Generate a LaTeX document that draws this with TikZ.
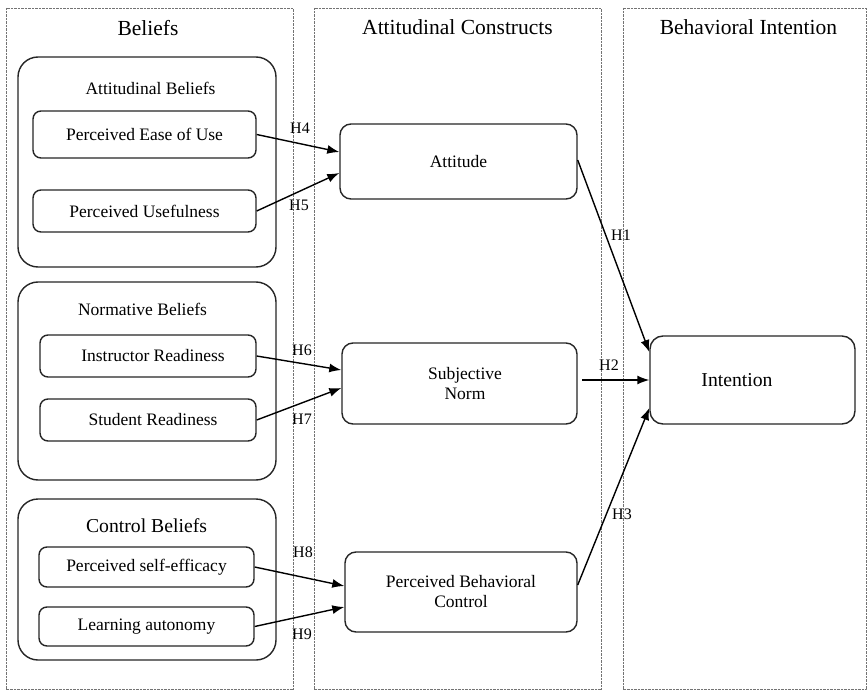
\documentclass[tikz,border=0pt]{standalone}
\usepackage{fontspec}
\setmainfont{Liberation Serif}
\usetikzlibrary{arrows.meta,calc}
\begin{document}
\begin{tikzpicture}[x=1pt,y=-1pt,
  col/.style={draw=black!55, line width=0.8pt, dash pattern=on 0.7pt off 0.7pt},
  grp/.style={draw=black!85, line width=1.4pt, rounded corners=20pt, inner sep=0pt},
  sbox/.style={draw=black!85, line width=1.4pt, rounded corners=8pt, inner sep=0pt, font=\fontsize{17.5}{20}\selectfont, align=center},
  cbox/.style={draw=black!85, line width=1.4pt, rounded corners=11pt, inner sep=0pt, font=\fontsize{17.5}{20}\selectfont, align=center},
  ttl/.style={font=\fontsize{21.5}{24}\selectfont, anchor=base, inner sep=0pt},
  glbl/.style={font=\fontsize{17.5}{20}\selectfont, anchor=base, inner sep=0pt},
  txt/.style={font=\fontsize{17.5}{20}\selectfont, align=center, inner sep=0pt},
  hl/.style={font=\fontsize{16}{18}\selectfont, inner sep=0pt},
  arr/.style={line width=1.4pt, -{Latex[length=12pt,width=9pt]}},
]
\useasboundingbox[fill=white] (0,0) rectangle (868,693);

% columns
\draw[col] (6,8) rectangle (293,689);
\draw[col] (314,8) rectangle (601,689);
\draw[col] (623,8) rectangle (866,689);

\node[ttl] (t1) at (148,36) {Beliefs};
\node[ttl] (t2) at (457.5,35) {Attitudinal Constructs};
\node[ttl] (t3) at (748.5,35) {Behavioral Intention};

% group boxes
\node[grp, minimum width=258pt, minimum height=210pt] (ab) at (147,162) {};
\node[grp, minimum width=258pt, minimum height=198pt] (nb) at (147,381) {};
\node[grp, minimum width=258pt, minimum height=161pt] (cb) at (147,579.5) {};

\node[glbl] (abl) at (150.5,95) {Attitudinal Beliefs};
\node[glbl] (nbl) at (142.5,315) {Normative Beliefs};
\node[glbl, font=\fontsize{19.7}{22}\selectfont] (cbl) at (146.5,532) {Control Beliefs};

% belief boxes
\node[sbox, minimum width=223pt, minimum height=47pt] (peou) at (144.5,134.5) {Perceived Ease of Use};
\node[sbox, minimum width=223pt, minimum height=42pt] (pu) at (144.5,211) {Perceived Usefulness};
\node[sbox, minimum width=216pt, minimum height=42pt] (ir) at (148,356) {};
\node[txt] (irt) at (153,356) {Instructor Readiness};
\node[sbox, minimum width=216pt, minimum height=42pt] (sr) at (148,420) {};
\node[txt] (srt) at (153,420) {Student Readiness};
\node[sbox, minimum width=215pt, minimum height=40pt] (pse) at (146.5,567) {Perceived self-efficacy};
\node[sbox, minimum width=215pt, minimum height=39pt] (la) at (146.5,626.5) {Learning autonomy};

% construct boxes
\node[cbox, minimum width=237pt, minimum height=75pt] (att) at (458.5,161.5) {Attitude};
\node[cbox, minimum width=235pt, minimum height=81pt] (sn) at (459.5,383.5) {};
\node[txt] (snt) at (465,384) {Subjective\\Norm};
\node[cbox, minimum width=232pt, minimum height=80pt] (pbc) at (461,592) {Perceived Behavioral\\Control};
\node[cbox, rounded corners=13pt, minimum width=205pt, minimum height=88pt] (int) at (752.5,380) {};
\node[txt, font=\fontsize{19.7}{22}\selectfont] (intt) at (737,380) {Intention};

% arrows
\draw[arr] (peou.east) -- ([yshift=9.5pt]att.west);
\draw[arr] (pu.east) -- ([yshift=-11.5pt]att.west);
\draw[arr] (ir.east) -- ([yshift=13.5pt]sn.west);
\draw[arr] (sr.east) -- ([yshift=-4.5pt]sn.west);
\draw[arr] (pse.east) -- ([yshift=6pt]pbc.west);
\draw[arr] (la.east) -- ([yshift=-15pt]pbc.west);
\draw[arr] ([yshift=1.5pt]att.east) -- ([yshift=28pt]int.west);
\coordinate (h2s) at (582,380);
\draw[arr] (h2s) -- (int.west);
\draw[arr] ([yshift=7pt]pbc.east) -- ([yshift=-28pt]int.west);

% hypothesis labels
\node[hl] (h4) at (300,128) {H4};
\node[hl] (h5) at (299,205) {H5};
\node[hl] (h6) at (302,350) {H6};
\node[hl] (h7) at (302,419) {H7};
\node[hl] (h8) at (303,552) {H8};
\node[hl] (h9) at (302,634) {H9};
\node[hl] (h1) at (621,235) {H1};
\node[hl] (h2) at (609,365) {H2};
\node[hl] (h3) at (622,514) {H3};
\end{tikzpicture}
\end{document}
